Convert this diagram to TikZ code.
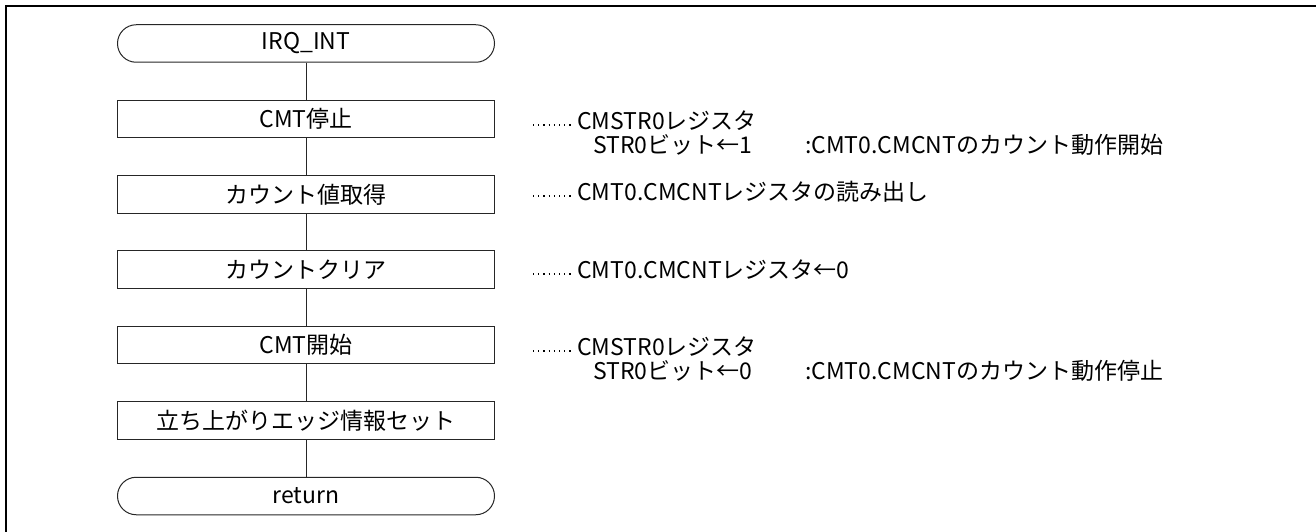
\documentclass[tikz,border=0pt]{standalone}
\usepackage{fontspec}
\setmainfont{Noto Sans CJK JP}
\begin{document}
\begin{tikzpicture}[x=1pt,y=-1pt,
  proc/.style={draw=black!85, line width=1pt, minimum width=377pt, minimum height=37.5pt, inner sep=0pt, font=\fontsize{23}{27}\selectfont},
  term/.style={proc, rounded corners=18.7pt},
  note/.style={anchor=base west, inner sep=0pt, font=\fontsize{23}{27}\selectfont},
  link/.style={draw=black!85, line width=1pt},
  leader/.style={line width=1.3pt, dash pattern=on 1.2pt off 4pt},
  frame/.style={line width=2.2pt}]
\useasboundingbox (0,0) rectangle (1316,532);
\clip (0,0) rectangle (1316,532);
\draw[frame] (6,6) rectangle (1330,545);

\node[term] (s)  at (306,43.5)  {IRQ\_INT};
\node[proc] (p1) at (306,118.9) {CMT停止};
\node[proc] (p2) at (306,194.3) {カウント値取得};
\node[proc] (p3) at (306,269.7) {カウントクリア};
\node[proc] (p4) at (306,345.1) {CMT開始};
\node[proc] (p5) at (306,420.5) {立ち上がりエッジ情報セット};
\node[term] (e)  at (306,496)   {return};

\draw[link] (s) -- (p1);
\draw[link] (p1) -- (p2);
\draw[link] (p2) -- (p3);
\draw[link] (p3) -- (p4);
\draw[link] (p4) -- (p5);
\draw[link] (p5) -- (e);

% annotations
\coordinate (d1a) at (533,125); \coordinate (d1b) at (571,125);
\node[note] (n1a) at (577,129) {CMSTR0レジスタ};
\node[note] (n1b) at (593,153) {STR0ビット←1};
\node[note] (n1c) at (805,153) {:CMT0.CMCNTのカウント動作開始};
\draw[leader] (d1a) -- (d1b);

\coordinate (d2a) at (533,196); \coordinate (d2b) at (571,196);
\node[note] (n2) at (577,200) {CMT0.CMCNTレジスタの読み出し};
\draw[leader] (d2a) -- (d2b);

\coordinate (d3a) at (533,274); \coordinate (d3b) at (571,274);
\node[note] (n3) at (577,278) {CMT0.CMCNTレジスタ←0};
\draw[leader] (d3a) -- (d3b);

\coordinate (d4a) at (533,351); \coordinate (d4b) at (571,351);
\node[note] (n4a) at (577,355) {CMSTR0レジスタ};
\node[note] (n4b) at (593,379) {STR0ビット←0};
\node[note] (n4c) at (805,379) {:CMT0.CMCNTのカウント動作停止};
\draw[leader] (d4a) -- (d4b);
\end{tikzpicture}
\end{document}
